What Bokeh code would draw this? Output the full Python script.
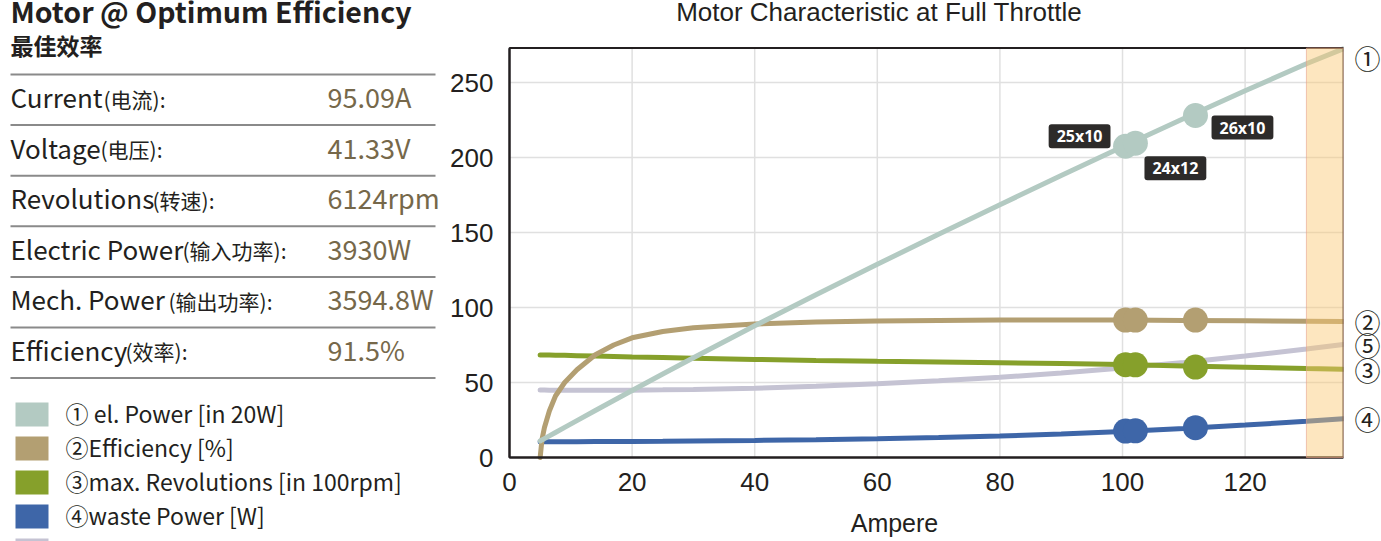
from bokeh.plotting import figure
from bokeh.layouts import row
from bokeh.models import Range1d, FixedTicker, LinearAxis, BoxAnnotation, Label, ColumnDataSource
from bokeh.embed import file_html
from bokeh.resources import INLINE
from bokeh.core.properties import value

# ---------------- data ----------------
current = [5, 5.3, 5.7, 6.5, 7.5, 9, 11, 14, 17, 20, 25, 30, 40, 50, 60, 70, 80, 90, 100, 110, 120, 130, 136]
el_power_20w = [11.0, 11.7, 12.6, 14.4, 16.7, 20.1, 24.6, 31.3, 38.0, 44.7, 55.7, 66.5, 87.8, 108.5, 128.8,
                148.8, 168.5, 188.0, 207.2, 226.0, 244.5, 262.5, 272.5]
efficiency_pct = [0, 12, 20, 31, 41, 50, 58.5, 68.5, 75, 79.8, 84, 86.5, 89, 90.3, 91, 91.4, 91.6, 91.6,
                  91.6, 91.4, 91.2, 90.9, 90.7]
revolutions_100rpm = [68.4, 68.4, 68.3, 68.3, 68.2, 68.1, 67.9, 67.6, 67.3, 67.0, 66.6, 66.2, 65.4, 64.7,
                      64.1, 63.6, 63.1, 62.6, 62.0, 61.0, 60.2, 59.3, 58.8]
waste_power_w = [10.5, 10.5, 10.5, 10.5, 10.5, 10.5, 10.5, 10.6, 10.6, 10.7, 10.8, 11.0, 11.4, 11.9, 12.5,
                 13.3, 14.3, 15.7, 17.4, 19.4, 21.6, 24.2, 25.9]
series5 = [45.0, 45.0, 45.0, 44.9, 44.9, 44.8, 44.8, 44.8, 44.8, 44.9, 45.1, 45.4, 46.2, 47.5, 49.2, 51.2,
           53.5, 56.3, 59.6, 63.3, 67.6, 72.4, 75.4]

marker_current = [100.5, 102.1, 111.9]
marker_el_power = [207.5, 209.5, 228.0]
marker_efficiency = [91.6, 91.6, 91.6]
marker_revolutions = [61.9, 61.8, 60.3]
marker_waste = [17.6, 17.8, 19.9]
marker_props = ["25x10", "24x12", "26x10"]

full_throttle_start = 130
x_max = 136.05
y_max = 273

x_ticks = [0, 20, 40, 60, 80, 100, 120]
y_ticks = [0, 50, 100, 150, 200, 250]

table_labels_en = ["Current", "Voltage", "Revolutions", "Electric Power", "Mech. Power", "Efficiency"]
table_labels_zh = ["(电流):", "(电压):", "(转速):", "(输入功率):", "(输出功率):", "(效率):"]
table_values = ["95.09A", "41.33V", "6124rpm", "3930W", "3594.8W", "91.5%"]

legend_labels = ["① el. Power [in 20W]", "②Efficiency [%]", "③max. Revolutions [in 100rpm]", "④waste Power [W]"]
end_marks = ["①", "②", "⑤", "③", "④"]

chart_title = "Motor Characteristic at Full Throttle"
x_title = "Ampere"

# ---------------- styles ----------------
DARK = "#231f20"
VALUE_COLOR = "#76684a"
UI_FONT = "Noto Sans CJK SC"
AX_FONT = "Liberation Sans"
C_EL = "#b3cac2"
C_EFF = "#b39f72"
C_REV = "#86a02b"
C_WASTE = "#3e66a8"
C_5 = "#c5c3d3"
GRID = "#e0e0e0"
legend_colors = [C_EL, C_EFF, C_REV, C_WASTE, C_5]
label_dx = [-46, 40, 47]
label_dy = [10, -25, -12]

# ---------------- left panel (data units = page pixels) ----------------
left = figure(width=448, height=541, x_range=Range1d(0, 448), y_range=Range1d(541, 0),
              x_axis_location=None, y_axis_location=None, toolbar_location=None, title_location=None,
              output_backend="svg", min_border=0)
left.grid.visible = False
left.outline_line_color = None

left.text(x=[10], y=[10], text=["Motor @ Optimum Efficiency"], text_font=value(UI_FONT),
          text_font_size="28.5px", text_font_style="bold", text_color=DARK, text_baseline="alphabetic")
left.text(x=[10], y=[44], text=["最佳效率"], text_font=value(UI_FONT),
          text_font_size="23px", text_font_style="bold", text_color=DARK, text_baseline="alphabetic")

sep_y = [74 + 50.6 * i for i in range(7)]
left.segment(x0=[10] * 7, y0=sep_y, x1=[435] * 7, y1=sep_y, line_color="#8a8a8a", line_width=2)

row_base = [96 + 50.5 * i for i in range(6)]
zh_x = [103, 100, 152, 182, 168, 125]
left.text(x=[10] * 6, y=row_base, text=table_labels_en, text_font=value(UI_FONT),
          text_font_size="26px", text_color=DARK, text_baseline="alphabetic")
left.text(x=zh_x, y=[b + 2.3 for b in row_base], text=table_labels_zh, text_font=value(UI_FONT),
          text_font_size="21px", text_color=DARK, text_baseline="alphabetic")
left.text(x=[327] * 6, y=row_base, text=table_values, text_font=value(UI_FONT),
          text_font_size="27px", text_color=VALUE_COLOR, text_baseline="alphabetic")

sw_top = [402 + 34 * i for i in range(5)]
left.quad(left=[15] * 5, right=[48] * 5, top=sw_top, bottom=[t + 24 for t in sw_top],
          fill_color=legend_colors, line_color=None)
left.text(x=[65] * 4, y=[t + 10.2 for t in sw_top[:4]], text=legend_labels, text_font=value(UI_FONT),
          text_font_size="23px", text_color=DARK, text_baseline="alphabetic")

# ---------------- chart ----------------
p = figure(frame_width=895, frame_height=541, min_border_left=0, min_border_right=38,
           min_border_top=0, min_border_bottom=0, title_location=None,
           x_range=Range1d(-9.951, x_max), y_range=Range1d(-56, 304.67),
           toolbar_location=None, output_backend="svg")
p.outline_line_color = None
p.background_fill_color = "white"
p.border_fill_color = "white"
p.grid.visible = False

p.xaxis.ticker = FixedTicker(ticks=x_ticks)
p.yaxis.ticker = FixedTicker(ticks=y_ticks)
p.xaxis.fixed_location = 0
p.yaxis.fixed_location = 0
p.xaxis.bounds = (0, x_max)
p.yaxis.bounds = (0, y_max)
for ax in (p.xaxis[0], p.yaxis[0]):
    ax.axis_line_color = DARK
    ax.axis_line_width = 2
    ax.major_tick_line_color = None
    ax.minor_tick_line_color = None
    ax.major_label_text_font = AX_FONT
    ax.major_label_text_font_size = "26px"
    ax.major_label_text_color = DARK
p.xaxis.major_label_standoff = 9
p.yaxis.major_label_standoff = 10

# grid lines restricted to the plotting area
p.segment(x0=x_ticks[1:], y0=0, x1=x_ticks[1:], y1=y_max, line_color=GRID, line_width=1.5)
p.segment(x0=0, y0=y_ticks[1:], x1=x_max, y1=y_ticks[1:], line_color=GRID, line_width=1.5)

src = ColumnDataSource(dict(x=current, el=el_power_20w, eff=efficiency_pct, rev=revolutions_100rpm,
                            waste=waste_power_w, s5=series5))
for col, colr in (("s5", C_5), ("waste", C_WASTE), ("rev", C_REV), ("eff", C_EFF), ("el", C_EL)):
    p.line("x", col, source=src, line_color=colr, line_width=5, line_cap="round")

msrc = ColumnDataSource(dict(x=marker_current, el=marker_el_power, eff=marker_efficiency,
                             rev=marker_revolutions, waste=marker_waste))
for col, colr in (("waste", C_WASTE), ("rev", C_REV), ("eff", C_EFF), ("el", C_EL)):
    p.scatter("x", col, source=msrc, size=25, fill_color=colr, line_color=None)

# plot-area frame (top / right edges)
p.quad(left=[0], right=[x_max], bottom=[0], top=[y_max], fill_color=None, line_color=DARK, line_width=2)

for mx, my, txt, dx, dy in zip(marker_current, marker_el_power, marker_props, label_dx, label_dy):
    p.add_layout(Label(x=mx, y=my, text=txt, x_offset=dx, y_offset=dy,
                       text_align="center", text_baseline="middle", text_color="white",
                       text_font="Open Sans", text_font_style="bold", text_font_size="16px",
                       background_fill_color="#2d2b2a", border_radius=3, padding=(8, 1)))

p.add_layout(BoxAnnotation(left=full_throttle_start, right=x_max, bottom=0, top=y_max, fill_color="#fac870",
                           fill_alpha=0.45, line_color="#e6a08c", line_alpha=0.6, line_width=1))

end_vals = [min(el_power_20w[-1], 267), efficiency_pct[-1], series5[-1], revolutions_100rpm[-1], waste_power_w[-1]]
rax = LinearAxis(ticker=FixedTicker(ticks=end_vals),
                 major_label_overrides={float(v): m for v, m in zip(end_vals, end_marks)})
rax.axis_line_color = None
rax.major_tick_line_color = None
rax.minor_tick_line_color = None
rax.major_label_standoff = 5
rax.major_label_text_font = UI_FONT
rax.major_label_text_font_size = "26px"
rax.major_label_text_color = DARK
p.add_layout(rax, "right")

p.text(x=[60.3], y=[296.7], text=[chart_title], text_align="center", text_baseline="alphabetic",
       text_font=value(AX_FONT), text_font_size="26px", text_color=DARK)
p.text(x=[62.8], y=[-43.7], text=[x_title], text_align="center", text_baseline="alphabetic",
       text_font=value(AX_FONT), text_font_size="25px", text_color=DARK)

layout = row(left, p)
open("out.html", "w").write(file_html(layout, INLINE))
